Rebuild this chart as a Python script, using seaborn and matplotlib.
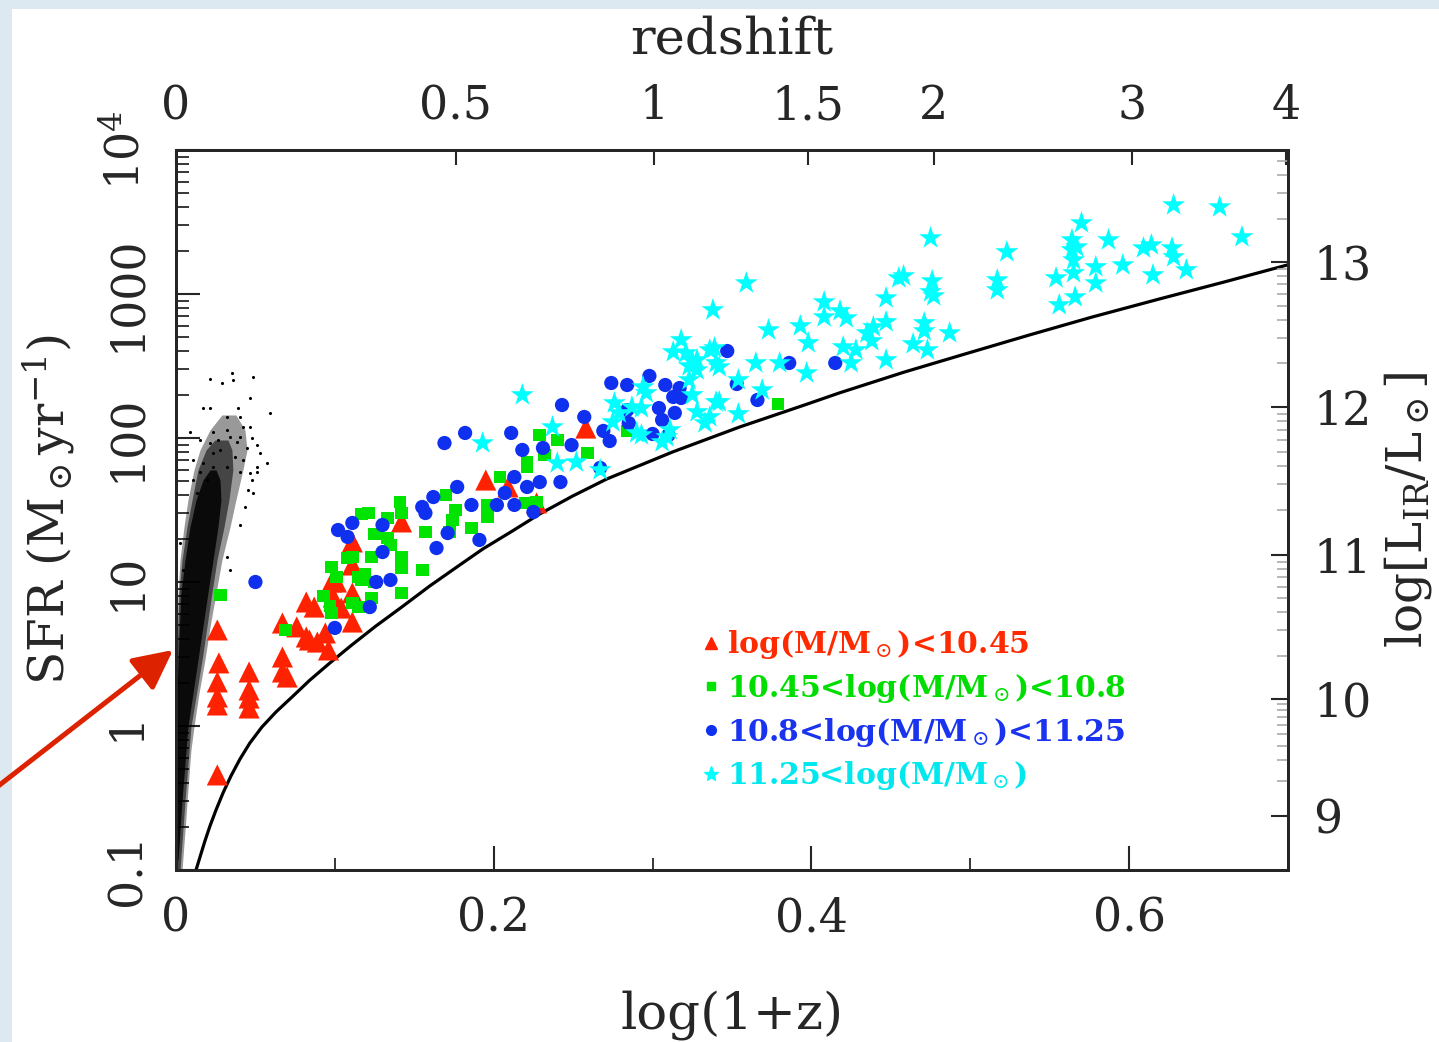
import numpy as np
import pandas as pd
import matplotlib
matplotlib.use("Agg")
import matplotlib.pyplot as plt
import seaborn as sns
from matplotlib.lines import Line2D
from matplotlib.patches import Rectangle
from matplotlib.ticker import FixedLocator, NullFormatter

# ---------------- data (x = log(1+z), y = log10 SFR) ----------------
red_x = [0.026, 0.027, 0.026, 0.026, 0.026, 0.046, 0.046, 0.046, 0.046, 0.067, 0.067, 0.067,
         0.070, 0.076, 0.082, 0.082, 0.087, 0.084, 0.089, 0.094, 0.096, 0.098, 0.101, 0.099,
         0.104, 0.111, 0.111, 0.111, 0.111, 0.142, 0.026, 0.195, 0.209, 0.227, 0.258]
red_logsfr = [0.667, 0.438, 0.306, 0.201, 0.146, 0.375, 0.250, 0.194, 0.125, 0.715, 0.479, 0.375,
              0.340, 0.688, 0.861, 0.618, 0.826, 0.597, 0.583, 0.646, 0.528, 1.000, 1.000, 0.896,
              0.819, 0.722, 0.924, 1.118, 1.278, 1.417, -0.340, 1.708, 1.660, 1.549, 2.069]

green_x = [0.028, 0.117, 0.121, 0.133, 0.141, 0.142, 0.125, 0.133, 0.135, 0.108, 0.123, 0.142,
           0.142, 0.098, 0.115, 0.119, 0.125, 0.155, 0.157, 0.170, 0.172, 0.142, 0.123, 0.093,
           0.097, 0.098, 0.111, 0.115, 0.069, 0.101, 0.176, 0.174, 0.186, 0.196, 0.204, 0.221,
           0.221, 0.229, 0.232, 0.240, 0.259, 0.220, 0.227, 0.284, 0.379, 0.196, 0.111, 0.117]
green_logsfr = [0.910, 1.472, 1.479, 1.444, 1.556, 1.479, 1.333, 1.306, 1.257, 1.167, 1.174, 1.174,
                1.097, 1.104, 1.035, 1.056, 1.000, 1.083, 1.347, 1.604, 1.347, 0.924, 0.889, 0.903,
                0.833, 0.785, 0.854, 0.826, 0.667, 1.035, 1.500, 1.431, 1.375, 1.451, 1.729, 1.833,
                1.799, 2.021, 1.882, 1.986, 1.896, 1.549, 1.556, 2.049, 2.236, 1.535, 1.174, 1.014]

blue_x = [0.050, 0.102, 0.111, 0.108, 0.130, 0.135, 0.126, 0.122, 0.100, 0.130, 0.155, 0.157,
          0.162, 0.164, 0.171, 0.169, 0.182, 0.211, 0.243, 0.218, 0.231, 0.249, 0.242, 0.229,
          0.213, 0.221, 0.207, 0.202, 0.213, 0.225, 0.177, 0.186, 0.191, 0.257, 0.269, 0.273,
          0.267, 0.274, 0.284, 0.298, 0.284, 0.304, 0.308, 0.313, 0.318, 0.314, 0.306, 0.300,
          0.310, 0.347, 0.366, 0.386, 0.415, 0.353, 0.317, 0.285]
blue_logsfr = [1.000, 1.361, 1.410, 1.313, 1.208, 1.014, 1.000, 0.826, 0.681, 1.396, 1.521, 1.479,
               1.590, 1.236, 1.340, 1.965, 2.035, 2.035, 2.229, 1.917, 1.931, 1.951, 1.694, 1.694,
               1.729, 1.660, 1.618, 1.535, 1.535, 1.486, 1.660, 1.535, 1.292, 2.146, 2.049, 1.979,
               1.792, 2.382, 2.368, 2.431, 2.194, 2.208, 2.368, 2.285, 2.278, 2.174, 2.125, 2.028,
               2.021, 2.604, 2.264, 2.521, 2.521, 2.375, 2.347, 2.104]

cyan_x = [0.475, 0.359, 0.338, 0.318, 0.321, 0.325, 0.339, 0.342, 0.296, 0.354, 0.365, 0.373,
          0.393, 0.398, 0.380, 0.397, 0.369, 0.408, 0.408, 0.418, 0.422, 0.420, 0.425, 0.435,
          0.439, 0.447, 0.447, 0.455, 0.458, 0.447, 0.438, 0.428, 0.464, 0.471, 0.476, 0.475,
          0.477, 0.471, 0.473, 0.487, 0.323, 0.342, 0.354, 0.313, 0.523, 0.517, 0.517, 0.554,
          0.556, 0.566, 0.570, 0.564, 0.564, 0.567, 0.565, 0.565, 0.587, 0.579, 0.579, 0.596,
          0.609, 0.614, 0.615, 0.627, 0.628, 0.636, 0.628, 0.657, 0.671,
          0.328, 0.293, 0.325, 0.336, 0.328, 0.293, 0.306, 0.311, 0.275, 0.252, 0.267, 0.218,
          0.193, 0.237, 0.240, 0.290, 0.294, 0.287, 0.328, 0.336, 0.340, 0.323, 0.340, 0.333,
          0.309, 0.279, 0.276]
cyan_logsfr = [3.389, 3.076, 2.889, 2.681, 2.590, 2.535, 2.625, 2.493, 2.313, 2.403, 2.521, 2.750,
               2.778, 2.660, 2.521, 2.451, 2.333, 2.944, 2.840, 2.882, 2.833, 2.632, 2.521, 2.729,
               2.771, 2.806, 2.972, 3.111, 3.125, 2.542, 2.674, 2.611, 2.653, 2.799, 3.090, 3.014,
               2.986, 2.743, 2.611, 2.729, 2.500, 2.250, 2.167, 2.597, 3.292, 3.097, 3.028, 3.111,
               2.924, 2.979, 3.493, 3.375, 3.306, 3.326, 3.236, 3.146, 3.375, 3.188, 3.076, 3.201,
               3.319, 3.340, 3.132, 3.319, 3.257, 3.167, 3.618, 3.604, 3.396,
               2.472, 2.208, 2.299, 2.146, 2.181, 2.021, 1.972, 2.056, 2.111, 1.833, 1.778, 2.299,
               1.965, 2.076, 1.826, 2.035, 2.354, 2.215, 2.542, 2.611, 2.521, 2.403, 2.250, 2.104,
               2.007, 2.174, 2.243]

# detection-limit curve
curve_x = [0.0126, 0.0151, 0.0182, 0.0214, 0.0252, 0.0296, 0.0346, 0.0403, 0.0465, 0.0541,
           0.0629, 0.0730, 0.0843, 0.0969, 0.1107, 0.1258, 0.1421, 0.1597, 0.1786, 0.1931,
           0.2107, 0.2289, 0.2497, 0.2711, 0.3126, 0.3547, 0.3956, 0.4176, 0.4585, 0.4987,
           0.5371, 0.5767, 0.6189, 0.6597, 0.6994]
curve_logsfr = [-1.000, -0.910, -0.799, -0.694, -0.583, -0.465, -0.347, -0.229, -0.118, -0.007,
                0.097, 0.201, 0.319, 0.438, 0.563, 0.694, 0.826, 0.972, 1.118, 1.229,
                1.347, 1.472, 1.597, 1.715, 1.903, 2.076, 2.229, 2.313, 2.458, 2.590,
                2.715, 2.840, 2.965, 3.083, 3.201]

# local galaxy cloud: density layers (x range of the cloud at each SFR level)
env_logsfr = [-1.0, -0.722, -0.444, -0.167, -0.007, 0.229, 0.458, 0.688, 0.924, 1.153,
              1.382, 1.569, 1.778, 1.917, 2.056, 2.160]
env_xlo = [0, 0, 0, 0, 0, 0, 0, 0.0006, 0.0013, 0.0025, 0.0050, 0.0075, 0.0113, 0.0151,
           0.0214, 0.0289]
env_xhi = [0.0038, 0.0057, 0.0075, 0.0094, 0.0113, 0.0145, 0.0182, 0.0214, 0.0252, 0.0289,
           0.0340, 0.0377, 0.0421, 0.0447, 0.0434, 0.0377]
mid_logsfr = [-1.0, -0.514, -0.007, 0.458, 0.924, 1.153, 1.382, 1.569, 1.778, 1.917, 1.986]
mid_xlo = [0, 0, 0, 0.0006, 0.0019, 0.0038, 0.0069, 0.0101, 0.0138, 0.0189, 0.0245]
mid_xhi = [0.0025, 0.0057, 0.0094, 0.0164, 0.0226, 0.0258, 0.0302, 0.0333, 0.0358, 0.0352, 0.0327]
core_logsfr = [-0.931, -0.514, -0.007, 0.458, 0.924, 1.153, 1.382, 1.569, 1.708, 1.778]
core_xlo = [0, 0, 0, 0.0013, 0.0031, 0.0057, 0.0088, 0.0126, 0.0170, 0.0214]
core_xhi = [0.0013, 0.0038, 0.0075, 0.0138, 0.0201, 0.0233, 0.0264, 0.0283, 0.0277, 0.0252]
sparse_x = [0.0214, 0.0289, 0.0352, 0.0358, 0.0484, 0.0170, 0.0214, 0.0465, 0.0390, 0.0591,
            0.0321, 0.0403, 0.0421, 0.0465, 0.0088, 0.0233, 0.0321, 0.0340, 0.0403, 0.0478,
            0.0151, 0.0214, 0.0264, 0.0384, 0.0447, 0.0509, 0.0528, 0.0233, 0.0277, 0.0371,
            0.0421, 0.0509, 0.0572, 0.0107, 0.0170, 0.0233, 0.0321, 0.0403, 0.0465, 0.0151,
            0.0509, 0.0478, 0.0107, 0.0195, 0.0484, 0.0132, 0.0025, 0.0044, 0.0340, 0.0321,
            0.0403, 0.0434, 0.0453]
sparse_logsfr = [2.410, 2.382, 2.451, 2.403, 2.424, 2.208, 2.208, 2.278, 2.208, 2.174,
                 2.146, 2.146, 2.076, 2.076, 2.042, 2.042, 2.056, 2.007, 2.007, 2.000,
                 1.986, 1.965, 1.986, 1.972, 1.931, 1.951, 1.896, 1.896, 1.917, 1.868,
                 1.847, 1.799, 1.826, 1.847, 1.826, 1.799, 1.799, 1.764, 1.757, 1.764,
                 1.764, 1.708, 1.708, 1.708, 1.618, 1.618, 1.271, 1.083, 1.083, 1.174,
                 1.396, 1.521, 1.639]

group_names = [r"log(M/M$_\odot$)<10.45", r"10.45<log(M/M$_\odot$)<10.8",
               r"10.8<log(M/M$_\odot$)<11.25", r"11.25<log(M/M$_\odot$)"]
group_colors = ["#ff2200", "#00e400", "#1030f0", "#00ffff"]
label_colors = ["#ff2a00", "#00dd00", "#1a33ee", "#00e8ee"]
group_markers = ["^", "s", "o", "*"]
group_sizes = [230, 85, 105, 300]

z_ticks = [0, 0.5, 1, 1.5, 2, 3, 4]
z_labels = ["0", "0.5", "1", "1.5", "2", "3", "4"]
lir_labels = ["9", "10", "11", "12", "13"]
lir_tick_logsfr = [-0.625, 0.1875, 1.1875, 2.215, 3.222]

# ---------------- style ----------------
sns.set_style("ticks")
plt.rcParams["font.family"] = ["DejaVu Serif"]
plt.rcParams["mathtext.fontset"] = "dejavuserif"
FS = 33
FSL = 37

fig = plt.figure(figsize=(14.39, 10.42), dpi=100, facecolor="#dde9f0")
fig.add_artist(Rectangle((12 / 1439, 0), 1, 1 - 9 / 1042, transform=fig.transFigure,
                         facecolor="white", edgecolor="none", zorder=-10))
ax = fig.add_axes([176 / 1439, 172 / 1042, 1112 / 1439, 720 / 1042])
ax.set_facecolor("white")

# cloud of local galaxies
ax.fill_betweenx(10 ** np.array(env_logsfr), env_xlo, env_xhi, color="black", alpha=0.4, lw=0)
ax.fill_betweenx(10 ** np.array(mid_logsfr), mid_xlo, mid_xhi, color="black", alpha=0.55, lw=0)
ax.fill_betweenx(10 ** np.array(core_logsfr), core_xlo, core_xhi, color="black", alpha=0.85, lw=0)
ax.scatter(sparse_x, 10 ** np.array(sparse_logsfr), s=5, color="black", lw=0)

# detection limit curve
sns.lineplot(x=curve_x, y=10 ** np.array(curve_logsfr), color="black", lw=2.3,
             estimator=None, sort=False, ax=ax)

frames = []
for name, xs, ys in zip(group_names, [red_x, green_x, blue_x, cyan_x],
                        [red_logsfr, green_logsfr, blue_logsfr, cyan_logsfr]):
    frames.append(pd.DataFrame({"x": xs, "sfr": 10 ** np.array(ys), "group": name}))
df = pd.concat(frames, ignore_index=True)
sns.scatterplot(data=df, x="x", y="sfr", hue="group", style="group", size="group",
                palette=dict(zip(group_names, group_colors)),
                markers=dict(zip(group_names, group_markers)),
                sizes=dict(zip(group_names, group_sizes)),
                linewidth=0, legend=False, ax=ax, zorder=3)

ax.set_xlim(0, 0.7)
ax.set_yscale("log")
ax.set_ylim(0.1, 1e4)

# bottom axis
ax.set_xticks([0, 0.2, 0.4, 0.6])
ax.set_xticklabels(["0", "0.2", "0.4", "0.6"], fontsize=FS)
ax.xaxis.set_minor_locator(FixedLocator([0.1, 0.3, 0.5]))
# left axis
ax.yaxis.set_major_locator(FixedLocator([0.1, 1, 10, 100, 1000, 1e4]))
ax.set_yticklabels(["0.1", "1", "10", "100", "1000", r"10$^4$"], fontsize=FS,
                   rotation=90, va="center")
minors = [m * 10.0 ** e for e in range(-1, 4) for m in range(2, 10)]
ax.yaxis.set_minor_locator(FixedLocator(minors))
ax.yaxis.set_minor_formatter(NullFormatter())
ax.tick_params(which="major", direction="in", length=17, width=1.5, pad=19,
               top=False, right=False)
ax.tick_params(which="minor", direction="in", length=9, width=1.3, top=False, right=False)
for sp in ax.spines.values():
    sp.set_linewidth(2)
    sp.set_color("black")

ax.set_xlabel("log(1+z)", fontsize=FSL, labelpad=35)
ax.set_ylabel(r"SFR (M$_\odot$yr$^{-1}$)", fontsize=35, labelpad=20)

# top axis: redshift
axt = ax.twiny()
axt.set_xlim(0, 0.7)
axt.set_xticks(np.log10(1 + np.array(z_ticks)))
axt.set_xticklabels(z_labels, fontsize=FS)
axt.tick_params(which="major", direction="in", length=11, width=1.5, pad=15)
axt.set_xlabel("redshift", fontsize=FSL, labelpad=22)

# right axis: log L_IR
axr = ax.twinx()
axr.set_yscale("log")
axr.set_ylim(0.1, 1e4)
axr.yaxis.set_major_locator(FixedLocator(10 ** np.array(lir_tick_logsfr)))
axr.set_yticklabels(lir_labels, fontsize=FS)
rminor = []
for a, b in zip(lir_tick_logsfr[:-1], lir_tick_logsfr[1:]):
    rminor += [a + (b - a) * np.log10(k) for k in range(2, 10)]
rminor += [lir_tick_logsfr[-1] + 1.0 * np.log10(k) for k in range(2, 7)]
axr.yaxis.set_minor_locator(FixedLocator(10 ** np.array(rminor)))
axr.yaxis.set_minor_formatter(NullFormatter())
axr.tick_params(which="major", direction="in", length=12, width=1.5, pad=18)
axr.tick_params(which="minor", direction="in", length=8, width=1.2, color="#aaaaaa")
axr.set_ylabel(r"log[L$_{\rm IR}$/L$_\odot$]", fontsize=35, labelpad=8)
for a in (axt, axr):
    for sp in a.spines.values():
        sp.set_linewidth(2)

# legend
handles = [Line2D([], [], marker=m, ls="", color=c, markersize=ms)
           for m, c, ms in zip(group_markers, group_colors, [9, 6, 7, 11])]
leg = ax.legend(handles, group_names, loc="upper left", bbox_to_anchor=(0.474, 0.336),
                frameon=False,
                prop={"family": "DejaVu Serif", "weight": "bold", "size": 21.5},
                labelcolor=label_colors, handlelength=0.5, handletextpad=0.3,
                labelspacing=0.36, borderpad=0, borderaxespad=0)

# red arrow pointing at the local galaxy cloud
ax.annotate("", xy=(173 / 1439, 1 - 650 / 1042), xycoords="figure fraction",
            xytext=(-3 / 1439, 1 - 787 / 1042), textcoords="figure fraction",
            arrowprops=dict(arrowstyle="-|>", color="#dd2200", lw=3.6, mutation_scale=60,
                            shrinkA=0, shrinkB=0),
            annotation_clip=False)

fig.savefig("out.png", dpi=100, facecolor=fig.get_facecolor())
